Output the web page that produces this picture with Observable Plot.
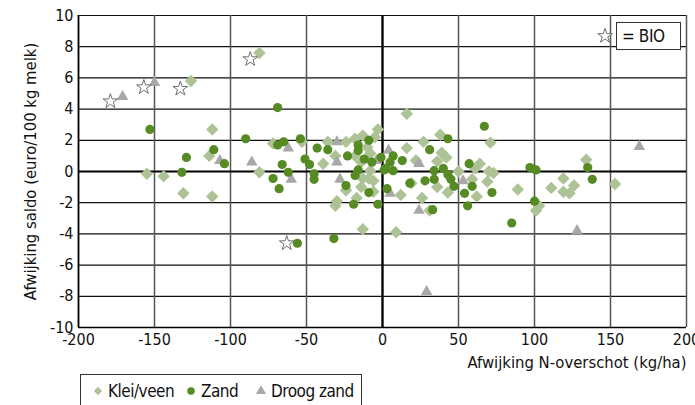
<!DOCTYPE html>
<html>
<head>
<meta charset="utf-8">
<script src="https://cdn.jsdelivr.net/npm/d3@7"></script>
<script src="https://cdn.jsdelivr.net/npm/@observablehq/plot@0.6"></script>
<style>
  body { margin: 0; background: #fff; }
  #wrap { position: relative; width: 695px; height: 405px; overflow: hidden;
          font-family: "DejaVu Sans", sans-serif; font-stretch: condensed; color: #111; }
  #wrap svg text { font-family: "DejaVu Sans", sans-serif; font-stretch: condensed; }
  #bio { position: absolute; left: 616px; top: 22px; width: 58px; height: 26px;
         border: 1.5px solid #333; background: #fff; font-size: 17px; line-height: 26px; padding-left: 5px;
         box-sizing: content-box; letter-spacing: -0.4px; }
  #bioStar { position: absolute; left: 597px; top: 28px; }
  #legend { position: absolute; left: 80px; top: 374px; width: 282px; height: 40px;
            border: 1.5px solid #333; box-sizing: border-box; font-size: 17px; white-space: nowrap; letter-spacing: -0.5px; }
  #legend .sw { position: absolute; top: 11px; display: block; line-height: 0; }
  #legend .sw svg { display: block; }
  #legend .lb { position: absolute; top: 6px; line-height: 20px; }
</style>
</head>
<body>
<div id="wrap"></div>
<script>
// Deviation in N surplus (kg/ha) vs deviation in margin (euro/100 kg milk)
const xTicks = [-200, -150, -100, -50, 0, 50, 100, 150, 200];
const yTicks = [-10, -8, -6, -4, -2, 0, 2, 4, 6, 8, 10];
const xLabel = "Afwijking N-overschot (kg/ha)";
const yLabel = "Afwijking saldo (euro/100 kg melk)";

// Klei/veen farms
const klei = [
  [-155, -0.15], [-144, -0.3], [-131, -1.4], [-126, 5.8], [-112, 2.7], [-114, 1.0], [-112, -1.6],
  [-81, 7.6], [-81, -0.05], [-72, 1.8], [-53, 1.9], [-36, 1.9], [-24, 1.9], [-18, 2.1], [-13, 2.3],
  [-3, 2.7], [-5, 2.2], [-10, 1.55], [-31, 1.0], [-39, 0.5], [-18, 1.0], [-8, 1.15], [-14, 0.6],
  [-8, 0.05], [-13, -0.45], [-14, -1.0], [-6, -0.6], [-24, -1.2], [-17, -1.7], [-30, -1.9],
  [-31, -2.2], [-13, -3.7], [-6, -1.3], [-9, -0.45],
  [16, 3.7], [38, 2.35], [16, 1.5], [27, 1.9], [39, 1.2], [71, 1.85], [42, 0.9], [22, 0.7],
  [36, 0.65], [64, 0.5], [50, 0.0], [61, 0.2], [70, 0.0], [73, -0.1], [59, -0.5], [69, -0.65],
  [19, -0.75], [36, -1.0], [43, -1.35], [12, -1.5], [26, -1.7], [62, -1.6], [89, -1.15],
  [103, -2.2], [101, -2.5], [111, -1.05], [119, -0.45], [119, -1.3], [123, -1.4], [126, -0.9],
  [134, 0.75], [153, -0.8], [9, -3.9], [31, -2.5]
];

// Zand farms
const zand = [
  [-153, 2.7], [-129, 0.9], [-111, 1.4], [-104, 0.5], [-132, -0.05], [-69, 4.1], [-90, 2.1],
  [-69, 1.7], [-65, 1.9], [-54, 2.1], [-43, 1.5], [-36, 1.4], [-51, 0.8], [-48, 0.45], [-66, 0.45],
  [-23, 1.0], [-16, 1.7], [-9, 2.0], [-16, 1.35], [-12, 0.8], [-7, 0.6], [-1, 0.9], [1, 0.1],
  [-18, -0.25], [-62, -0.05], [-45, -0.15], [-72, -0.45], [-68, -1.1], [-45, -0.5], [-24, -0.9],
  [-19, -2.1], [-9, -1.35], [-3, -2.1], [2, 0.2], [3, -1.1], [-32, -4.3], [-56, -4.6], [-16, 0.1],
  [43, 2.1], [31, 1.4], [13, 0.7], [7, 1.0], [7, 0.05], [5, 0.6], [34, 0.05], [40, 0.2],
  [43, -0.2], [45, -0.5], [34, -0.5], [28, -0.6], [18, -0.75], [47, -0.95], [54, -1.4],
  [56, -2.2], [33, -2.45], [67, 2.9], [57, 0.5], [97, 0.25], [101, 0.1], [135, 0.25],
  [138, -0.5], [59, -0.95], [72, -1.35], [100, -1.9], [85, -3.3]
];

// Droog zand farms
const droog = [
  [-171, 4.8], [-150, 5.7], [-107, 0.7], [-86, 0.6], [-62, 1.5], [-60, -0.5], [-30, 1.9],
  [-30, 0.6], [-28, -0.5], [4, 1.35], [-4, 0.7], [24, 0.5], [53, -0.6], [5, -1.4], [24, -2.5],
  [29, -7.7], [128, -3.8], [169, 1.6]
];

// Organic (BIO) farms, drawn as open stars
const bio = [[-179, 4.5], [-157, 5.4], [-133, 5.3], [-87, 7.2], [-63, -4.6]];

const cKlei = "#adc295";
const cZand = "#568a22";
const cDroog = "#a8a8a8";
const cStar = "#6e6e6e";
const font = "'DejaVu Sans', sans-serif";

const chart = Plot.plot({
  width: 695,
  height: 374,
  marginLeft: 78,
  marginRight: 9,
  marginTop: 15,
  marginBottom: 47,
  style: { fontFamily: font, fontSize: "16px", color: "#111", background: "transparent" },
  x: { domain: [-200, 200], ticks: xTicks, tickSize: 0, tickPadding: 6, tickFormat: d => String(d), label: null },
  y: { domain: [-10, 10], ticks: yTicks, tickSize: 0, tickPadding: 5, tickFormat: d => String(d), label: null },
  marks: [
    Plot.gridY(yTicks, { stroke: "#111", strokeOpacity: 1, strokeWidth: 1.2 }),
    Plot.gridX(xTicks, { stroke: "#555", strokeOpacity: 1, strokeWidth: 1.5 }),
    Plot.ruleY([0], { stroke: "#000", strokeWidth: 2.2 }),
    Plot.ruleX([0], { stroke: "#000", strokeWidth: 2.2 }),
    Plot.ruleX([-200], { stroke: "#000", strokeWidth: 1.6 }),
    Plot.ruleY([-10], { stroke: "#000", strokeWidth: 1.6 }),
    Plot.dot(klei, { x: d => d[0], y: d => d[1], symbol: "diamond2", fill: cKlei, r: 5.6 }),
    Plot.dot(droog, { x: d => d[0], y: d => d[1], symbol: "triangle", fill: cDroog, r: 4.3 }),
    Plot.dot(zand, { x: d => d[0], y: d => d[1], symbol: "circle", fill: cZand, r: 4.6 }),
    Plot.dot(bio, { x: d => d[0], y: d => d[1], symbol: "star", fill: "#fff", stroke: cStar, strokeWidth: 1, r: 4.6 }),
    // axis titles
    Plot.text([xLabel], { frameAnchor: "bottom-right", dy: 40, text: d => d, textAnchor: "end",
                          fontSize: 16.5, fill: "#111", letterSpacing: "-0.3px" }),
    Plot.text([yLabel], { frameAnchor: "left", dx: -48, text: d => d, rotate: -90, textAnchor: "middle",
                          fontSize: 16.5, fill: "#111", letterSpacing: "-0.3px" })
  ]
});

const wrap = document.getElementById("wrap");
wrap.appendChild(chart);

// symbol helper for HTML legend swatches
function swatch(type, color, size, w) {
  const p = d3.symbol(type, size)();
  return `<svg width="${w}" height="${w}" viewBox="${-w/2} ${-w/2} ${w} ${w}"><path d="${p}" fill="${color}"/></svg>`;
}

// "= BIO" key inside the plot area
const star = d3.symbol(d3.symbolStar, 66)();
wrap.insertAdjacentHTML("beforeend",
  `<svg id="bioStar" width="16" height="16" viewBox="-8 -8 16 16"><path d="${star}" fill="#fff" stroke="${cStar}" stroke-width="1"/></svg>` +
  `<div id="bio">= BIO</div>`);

// series legend below the chart
const items = [
  ["Klei/veen", d3.symbolDiamond2, cKlei, 12],
  ["Zand", d3.symbolCircle, cZand, 105],
  ["Droog zand", d3.symbolTriangle, cDroog, 175]
];
wrap.insertAdjacentHTML("beforeend",
  `<div id="legend">` +
  items.map(([name, t, c, left]) =>
    `<span class="sw" style="left:${left}px">${swatch(t, c, 44, 10)}</span>` +
    `<span class="lb" style="left:${left + 15}px">${name}</span>`).join("") +
  `</div>`);
</script>
</body>
</html>
